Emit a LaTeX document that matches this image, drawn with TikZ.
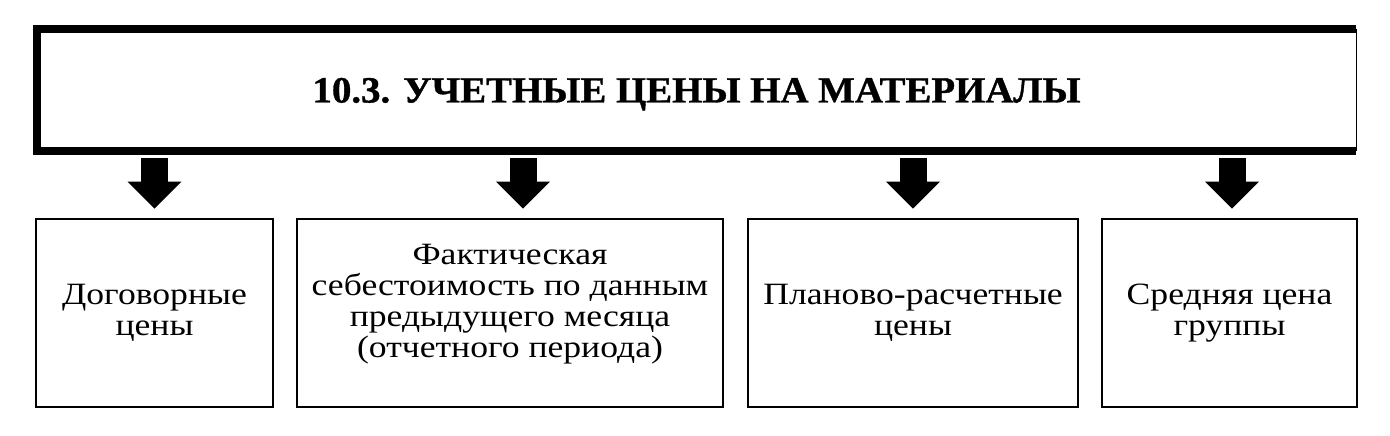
\documentclass[tikz,border=0pt]{standalone}
\usepackage{fontspec}
\setmainfont{Liberation Serif}[FakeStretch=1.15]
\newfontfamily\titlefont{Liberation Serif}[FakeStretch=1.05,FakeBold=1]
\usetikzlibrary{arrows.meta,calc}
\tikzset{
  titlebox/.style={inner sep=0pt, minimum width=1319pt, minimum height=122pt,
    text height=25pt, text depth=0pt, font=\titlefont\bfseries\fontsize{37}{40}\selectfont},
  itemfont/.style={align=center, font=\fontsize{31}{31}\selectfont},
  itembox/.style={draw, line width=2.5pt, inner sep=0pt, minimum height=188pt, itemfont},
  bigarrow/.style={line width=27pt, -{Triangle[width=52pt,length=27pt]},
    shorten <=7pt, shorten >=9pt}
}
\begin{document}
\begin{tikzpicture}[x=1pt,y=1pt]
\useasboundingbox (0,0) rectangle (1390,436);
\fill[white] (0,0) rectangle (1390,436);
% title
\node[titlebox] (t) at (696.5,346) {10.3. УЧЕТНЫЕ ЦЕНЫ НА МАТЕРИАЛЫ};
\draw[line width=8pt, line join=miter] (t.north east) -- (t.north west) -- (t.south west) -- (t.south east);
\draw[line width=1.2pt] (t.north east) -- (t.south east);
% boxes
\node[itembox, minimum width=237pt] (b1) at (154.5,123) {Договорные\\цены};
\node[itembox, minimum width=426pt] (b2) at (510,123) {};
\node[itemfont, inner sep=0pt] (b2text) at ([yshift=9pt]b2.center) {Фактическая\\себестоимость по данным\\предыдущего месяца\\(отчетного периода)};
\node[itembox, minimum width=330pt] (b3) at (913,123) {Планово-расчетные\\цены};
\node[itembox, minimum width=255pt] (b4) at (1229.5,123) {Средняя цена\\группы};
% arrows
\draw[bigarrow] (b1.north |- t.south) -- (b1.north);
\draw[bigarrow] ($(b2.north |- t.south)+(13,0)$) -- ($(b2.north)+(13,0)$);
\draw[bigarrow] (b3.north |- t.south) -- (b3.north);
\draw[bigarrow] ($(b4.north |- t.south)+(2.5,0)$) -- ($(b4.north)+(2.5,0)$);
\end{tikzpicture}
\end{document}
